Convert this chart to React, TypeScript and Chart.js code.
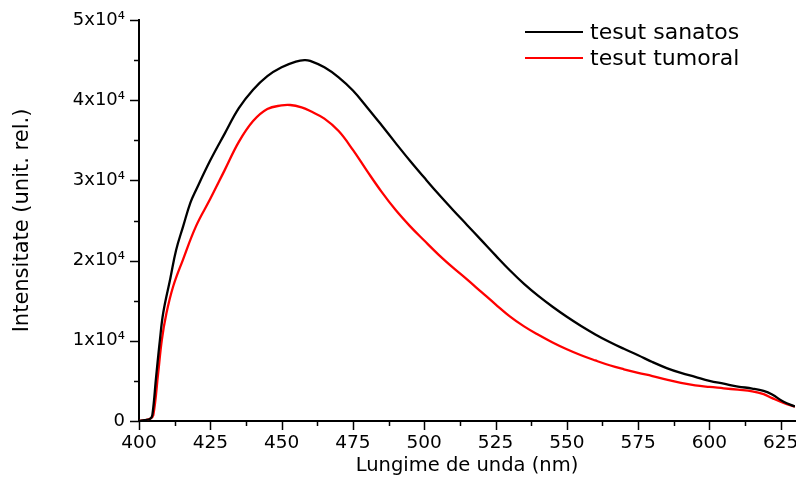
import React, { useEffect, useRef } from "react";
import { Chart, registerables } from "chart.js";

Chart.register(...registerables);

// ---- Data ----
const wavelengthSanatos = [400, 402, 404, 404.7, 406, 407.3, 408.5, 411, 413, 415.5, 418, 420, 425, 430, 435, 440, 445, 450, 455, 458, 460, 465, 470, 475, 480, 485, 490, 495, 500, 505, 510, 515, 520, 525, 530, 535, 540, 545, 550, 555, 560, 565, 570, 575, 580, 585, 590, 595, 600, 605, 610, 615, 619, 622, 626, 630];
const intensitySanatos = [0, 100, 300, 800, 5500, 10000, 13500, 17800, 21300, 24300, 27200, 28800, 32500, 35800, 39000, 41300, 43000, 44100, 44800, 45000, 44900, 44100, 42850, 41200, 39100, 36900, 34650, 32450, 30350, 28300, 26350, 24450, 22550, 20650, 18800, 17100, 15600, 14250, 13000, 11850, 10800, 9850, 9000, 8200, 7350, 6600, 6000, 5500, 5000, 4650, 4300, 4050, 3750, 3300, 2400, 1800];

const wavelengthTumoral = [400, 402, 404, 405, 406.7, 408, 409.6, 412, 415.4, 420, 425, 430, 435, 440, 445, 450, 453, 457, 460, 465, 470, 475, 480, 485, 490, 495, 500, 505, 510, 515, 520, 525, 530, 535, 540, 545, 550, 555, 560, 565, 570, 575, 580, 585, 590, 595, 600, 605, 610, 615, 619, 622, 626, 630];
const intensityTumoral = [0, 100, 300, 700, 5900, 10100, 13400, 16800, 20100, 24300, 27700, 31250, 34800, 37400, 38900, 39350, 39400, 39100, 38650, 37700, 36150, 33800, 31150, 28600, 26300, 24300, 22500, 20750, 19150, 17650, 16100, 14550, 13050, 11800, 10750, 9800, 8950, 8200, 7550, 6950, 6450, 6000, 5600, 5150, 4750, 4450, 4250, 4080, 3900, 3700, 3350, 2850, 2250, 1800];

const seriesLabels = ["tesut sanatos", "tesut tumoral"];
const seriesColors = ["#000000", "#ff0000"];

const xTickLabels = ["400", "425", "450", "475", "500", "525", "550", "575", "600", "625"];
const yTickLabels = ["0", "1x10\u2074", "2x10\u2074", "3x10\u2074", "4x10\u2074", "5x10\u2074"];

const FONT = '"DejaVu Sans", "Liberation Sans", sans-serif';

const tickMarksPlugin = {
  id: "tickMarks",
  afterDraw(chart: any) {
    const ctx = chart.ctx;
    const area = chart.chartArea;
    const xs = chart.scales.x;
    const ys = chart.scales.y;
    ctx.save();
    ctx.strokeStyle = "#000";
    ctx.lineWidth = 1.5;
    for (const t of xs.ticks) {
      const major = t.value % 25 === 0;
      const px = Math.round(xs.getPixelForValue(t.value)) + 0.5;
      ctx.beginPath();
      ctx.moveTo(px, area.bottom);
      ctx.lineTo(px, area.bottom + (major ? 9 : 5));
      ctx.stroke();
    }
    for (const t of ys.ticks) {
      const major = t.value % 10000 === 0;
      const py = Math.round(ys.getPixelForValue(t.value)) + 0.5;
      ctx.beginPath();
      ctx.moveTo(area.left, py);
      ctx.lineTo(area.left - (major ? 9 : 5), py);
      ctx.stroke();
    }
    ctx.restore();
  },
};

const legendPlugin = {
  id: "customLegend",
  afterDraw(chart: any) {
    const ctx = chart.ctx;
    ctx.save();
    ctx.font = `22px ${FONT}`;
    ctx.textBaseline = "middle";
    ctx.textAlign = "left";
    const rows = [32, 58];
    chart.data.datasets.forEach((ds: any, i: number) => {
      const y = rows[i];
      ctx.strokeStyle = ds.borderColor;
      ctx.lineWidth = 2.2;
      ctx.beginPath();
      ctx.moveTo(525, y);
      ctx.lineTo(583, y);
      ctx.stroke();
      ctx.fillStyle = "#000";
      ctx.fillText(ds.label, 590, y + 1);
    });
    ctx.restore();
  },
};

export default function App() {
  const ref = useRef<HTMLCanvasElement | null>(null);

  useEffect(() => {
    if (!ref.current) return;
    const chart = new Chart(ref.current, {
      type: "line",
      data: {
        datasets: [
          {
            label: seriesLabels[0],
            data: wavelengthSanatos.map((x, i) => ({ x, y: intensitySanatos[i] })),
            borderColor: seriesColors[0],
            borderWidth: 2.3,
            pointRadius: 0,
            tension: 0.4,
            fill: false,
          },
          {
            label: seriesLabels[1],
            data: wavelengthTumoral.map((x, i) => ({ x, y: intensityTumoral[i] })),
            borderColor: seriesColors[1],
            borderWidth: 2.3,
            pointRadius: 0,
            tension: 0.4,
            fill: false,
          },
        ],
      },
      options: {
        responsive: false,
        animation: false,
        devicePixelRatio: 1,
        layout: { padding: { top: 20, right: 1, left: 0, bottom: 0 } },
        plugins: { legend: { display: false }, tooltip: { enabled: false } },
        scales: {
          x: {
            type: "linear",
            min: 400,
            max: 630,
            afterFit: (s: any) => {
              s.height = 68;
              s.paddingLeft = 0;
              s.paddingRight = 0;
            },
            grid: { display: false, drawTicks: false },
            border: { display: true, color: "#000", width: 2 },
            ticks: {
              stepSize: 12.5,
              includeBounds: false,
              autoSkip: false,
              maxRotation: 0,
              minRotation: 0,
              padding: 11,
              color: "#000",
              font: { family: FONT, size: 18.5 },
              callback: (v: any) => {
                const n = Number(v);
                if (n % 25 !== 0) return "";
                const idx = (n - 400) / 25;
                return xTickLabels[idx] ?? "";
              },
            },
            title: {
              display: true,
              text: "Lungime de unda (nm)",
              color: "#000",
              font: { family: FONT, size: 19.5 },
              padding: { top: 0, bottom: 11 },
            },
          },
          y: {
            type: "linear",
            min: 0,
            max: 50000,
            afterFit: (s: any) => {
              s.width = 139;
              s.paddingTop = 0;
              s.paddingBottom = 0;
            },
            grid: { display: false, drawTicks: false },
            border: { display: true, color: "#000", width: 2 },
            ticks: {
              stepSize: 5000,
              autoSkip: false,
              padding: 14,
              color: "#000",
              font: { family: FONT, size: 18 },
              callback: (v: any) => {
                const n = Number(v);
                if (n % 10000 !== 0) return "";
                return yTickLabels[n / 10000] ?? "";
              },
            },
            title: {
              display: true,
              text: "Intensitate (unit. rel.)",
              color: "#000",
              font: { family: FONT, size: 21 },
              padding: { top: 9.5, bottom: 0 },
            },
          },
        },
      },
      plugins: [tickMarksPlugin, legendPlugin],
    } as any);
    return () => chart.destroy();
  }, []);

  return (
    <div style={{ position: "fixed", left: 0, top: 0, width: 796, height: 489, background: "#fff" }}>
      <canvas ref={ref} width={796} height={489} style={{ display: "block", width: 796, height: 489 }} />
    </div>
  );
}
